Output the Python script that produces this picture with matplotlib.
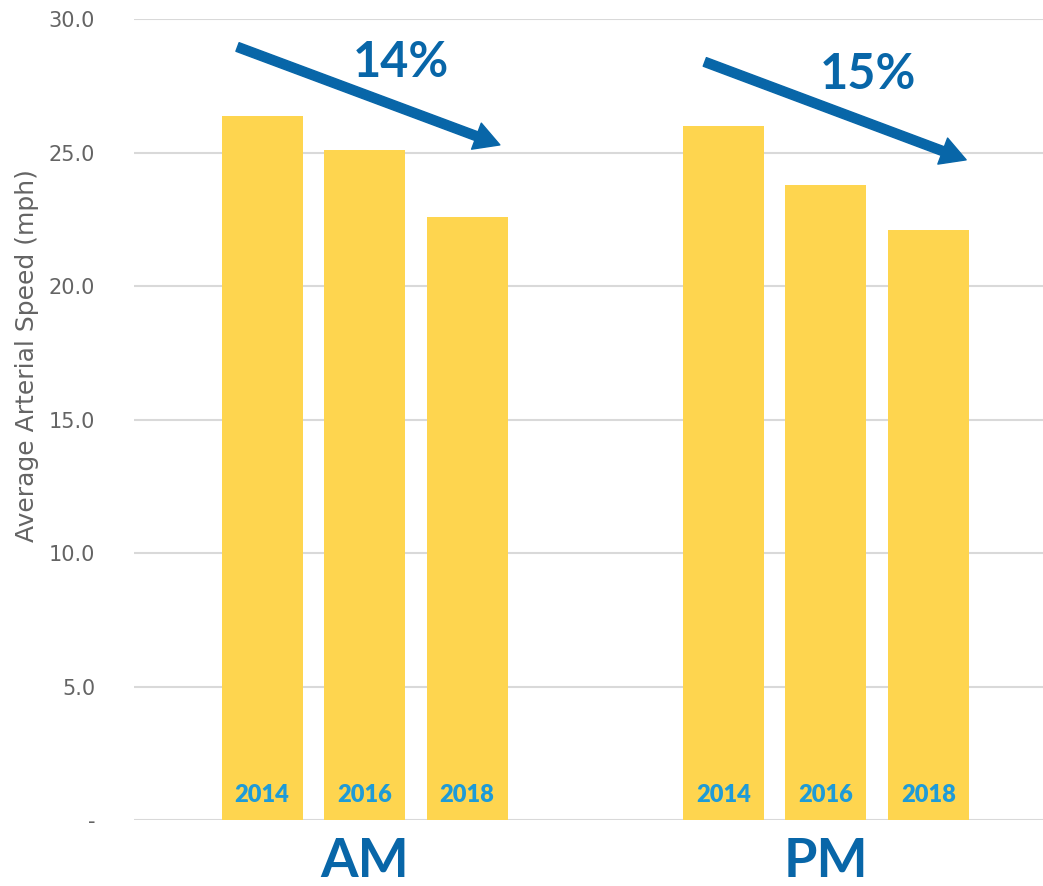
import numpy as np
import matplotlib.pyplot as plt

# average arterial speed by peak period and year
periods = ['AM', 'PM']
years = ['2014', '2016', '2018']
am_speed = [26.4, 25.1, 22.6]
pm_speed = [26.0, 23.8, 22.1]
drops = ['14%', '15%']

bar_col = '#FED54F'
year_col = '#1E9BD7'
dark_blue = '#0866A8'
grey = '#646464'

plt.rcParams['font.family'] = ['Lato', 'DejaVu Sans']

fig = plt.figure(figsize=(10.43, 8.86), dpi=100)
ax = fig.add_axes([0.1285, 0.0745, 0.8715, 0.9035])

x_am = np.arange(3)
x_pm = np.arange(3) + 4.5
for xs, vals in [(x_am, am_speed), (x_pm, pm_speed)]:
    ax.bar(xs, vals, width=0.79, color=bar_col, zorder=2)
    for x, yr in zip(xs, years):
        ax.text(x, 0.95, yr, ha='center', va='center', color=year_col,
                fontsize=17, fontweight='heavy', zorder=3)

# trend arrows with percentage drop
arrows = [((-0.24, 28.97), (2.32, 25.3)), ((4.32, 28.41), (6.87, 24.74))]
pct_pos = [(1.35, 28.4), (5.91, 27.92)]
for (start, tip), pos, txt in zip(arrows, pct_pos, drops):
    ax.annotate('', xy=tip, xytext=start,
                arrowprops=dict(arrowstyle='simple,head_length=0.9,head_width=1.0,tail_width=0.33',
                                mutation_scale=20, color=dark_blue,
                                shrinkA=0, shrinkB=0), zorder=4)
    ax.text(pos[0], pos[1], txt, ha='center', va='center', color=dark_blue,
            fontsize=35, fontweight='bold')

ax.set_xlim(-1.25, 7.62)
ax.set_ylim(0, 30)
yt = np.arange(0, 31, 5)
ax.set_yticks(yt)
ax.set_yticklabels(['-' if v == 0 else f'{v:.1f}' for v in yt],
                   family='DejaVu Sans')
ax.tick_params(axis='y', length=0, pad=28, labelsize=15, labelcolor=grey)
ax.set_xticks([1, 5.5])
ax.set_xticklabels(periods)
ax.tick_params(axis='x', length=0, pad=12, labelsize=39, labelcolor=dark_blue)
for lab in ax.get_xticklabels():
    lab.set_fontweight('bold')

ax.grid(axis='y', color='#D9D9D9', lw=1.5, zorder=0)
ax.set_axisbelow(True)
for s in ax.spines.values():
    s.set_visible(False)

ax.set_ylabel('Average Arterial Speed (mph)', fontsize=18, color=grey,
              family='DejaVu Sans')
ax.yaxis.set_label_coords(-0.105, 0.58)

fig.savefig('out.png', dpi=100)
